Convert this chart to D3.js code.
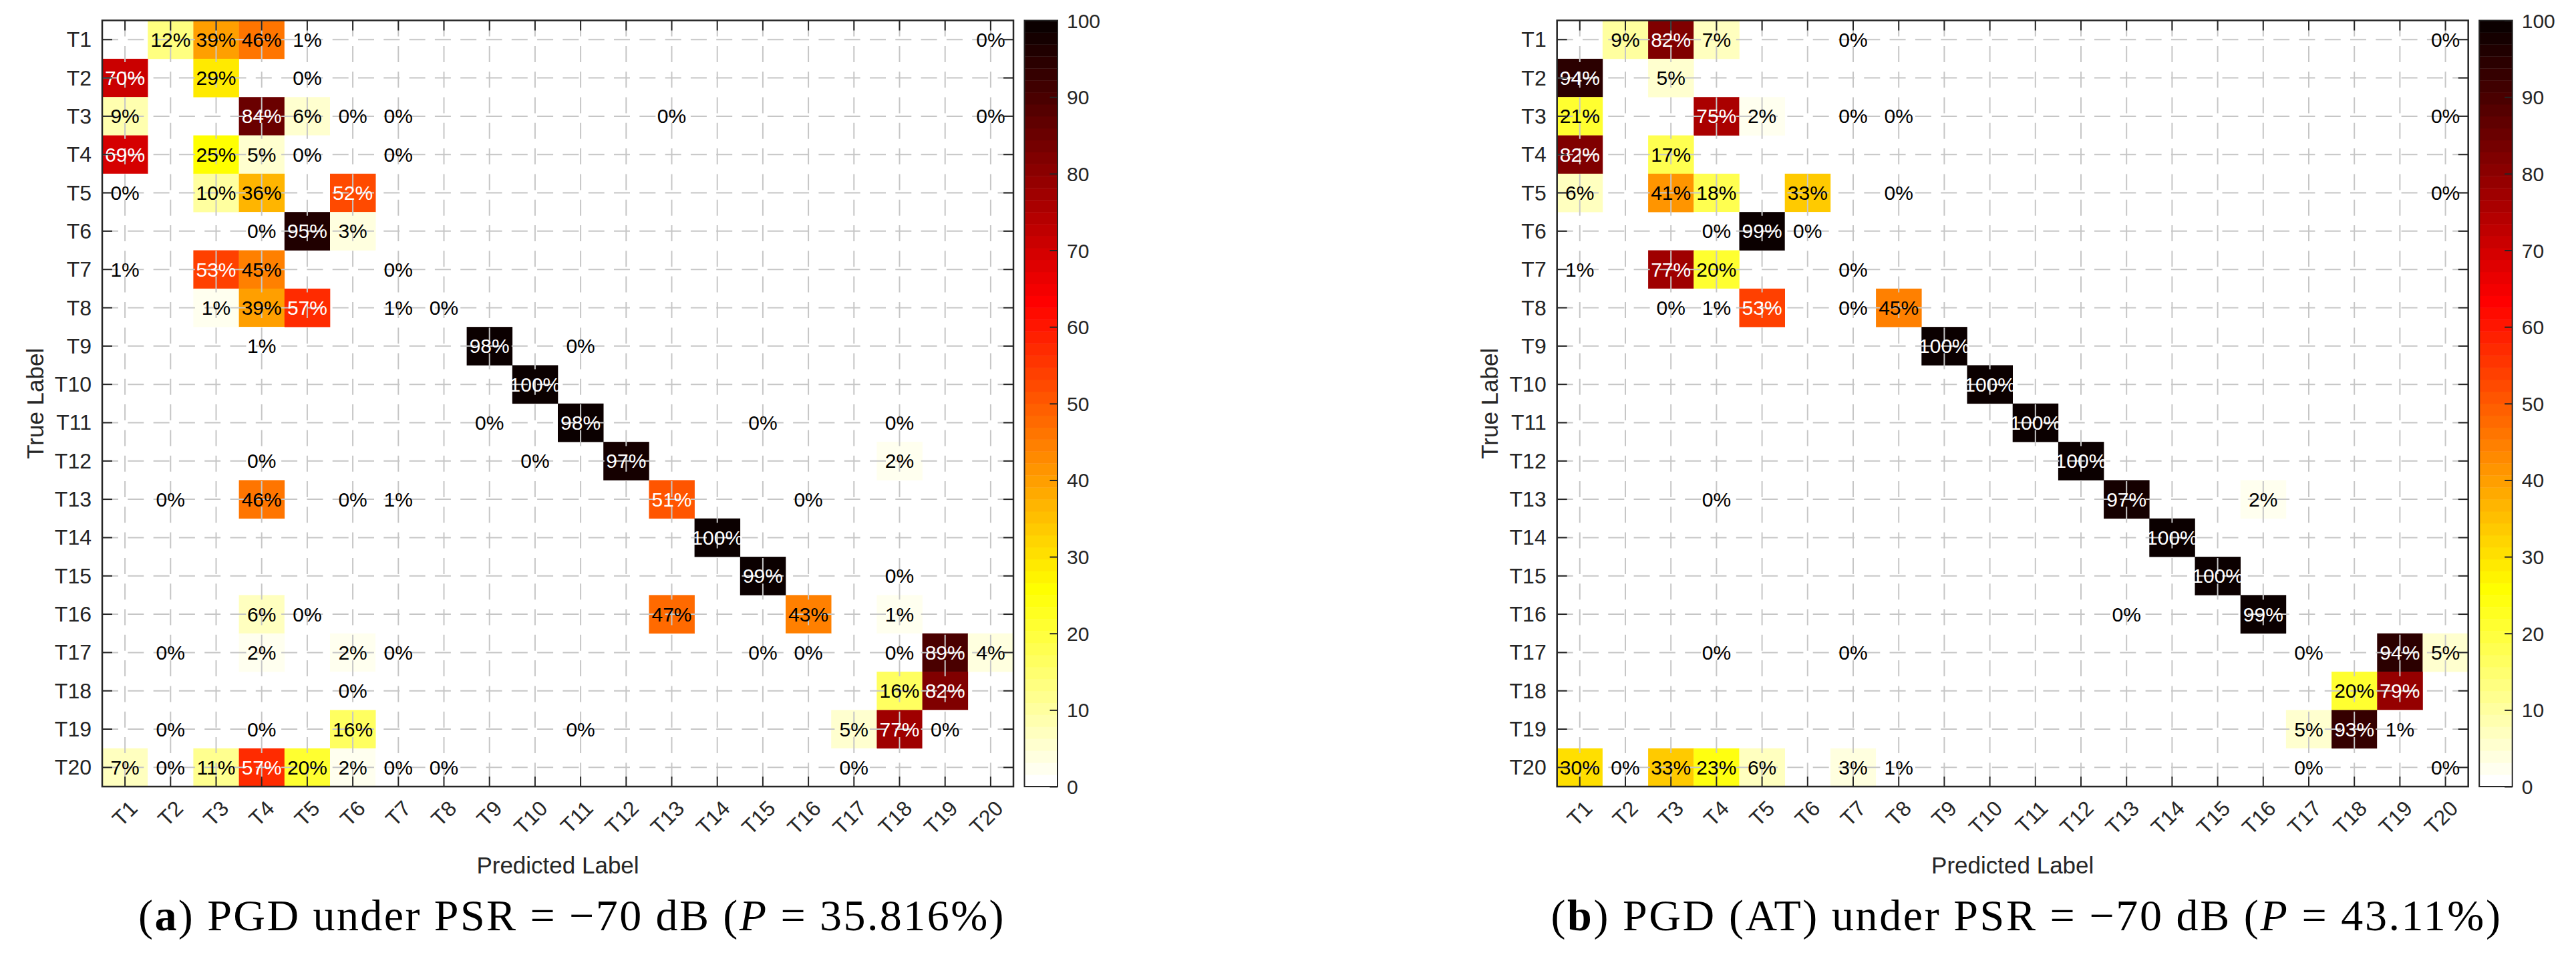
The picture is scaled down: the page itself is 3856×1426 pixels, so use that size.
<!DOCTYPE html>
<html>
<head>
<meta charset="utf-8">
<script src="https://cdn.jsdelivr.net/npm/d3@7/dist/d3.min.js"></script>
<style>
  html, body { margin: 0; padding: 0; background: #ffffff; }
  svg { display: block; }
</style>
</head>
<body>
<svg id="chart" width="3856" height="1426"></svg>
<script>
// ---------------- DATA ----------------
const N = null;
const classLabels = ["T1","T2","T3","T4","T5","T6","T7","T8","T9","T10",
                     "T11","T12","T13","T14","T15","T16","T17","T18","T19","T20"];
const colorbarTicks = [0, 10, 20, 30, 40, 50, 60, 70, 80, 90, 100];
const xAxisTitle = "Predicted Label";
const yAxisTitle = "True Label";

// Panel (a): PGD, rows = true label, columns = predicted label (percent)
const matrixA = [
  [N,12.6,39.4,46.5,1.2,N,N,N,N,N,N,N,N,N,N,N,N,N,N,0.3],
  [70.4,N,29.3,N,0.3,N,N,N,N,N,N,N,N,N,N,N,N,N,N,N],
  [9.3,N,N,84.5,6.1,0.1,0.1,N,N,N,N,N,0.1,N,N,N,N,N,N,0.1],
  [69.5,N,25.3,5.1,0.2,N,0.1,N,N,N,N,N,N,N,N,N,N,N,N,N],
  [0.4,N,10.6,36.5,N,52.5,N,N,N,N,N,N,N,N,N,N,N,N,N,N],
  [N,N,N,0.4,95.8,3.8,N,N,N,N,N,N,N,N,N,N,N,N,N,N],
  [1.2,N,53.4,45.2,N,N,0.2,N,N,N,N,N,N,N,N,N,N,N,N,N],
  [N,N,1.7,39.5,57.6,N,1.1,0.1,N,N,N,N,N,N,N,N,N,N,N,N],
  [N,N,N,1.1,N,N,N,N,98.6,N,0.3,N,N,N,N,N,N,N,N,N],
  [N,N,N,N,N,N,N,N,N,100,N,N,N,N,N,N,N,N,N,N],
  [N,N,N,N,N,N,N,N,0.5,N,98.8,N,N,N,0.4,N,N,0.3,N,N],
  [N,N,N,0.3,N,N,N,N,N,0.2,N,97.4,N,N,N,N,N,2.1,N,N],
  [N,0.4,N,46.6,N,0.3,1.1,N,N,N,N,N,51.3,N,N,0.3,N,N,N,N],
  [N,N,N,N,N,N,N,N,N,N,N,N,N,100,N,N,N,N,N,N],
  [N,N,N,N,N,N,N,N,N,N,N,N,N,N,99.6,N,N,0.4,N,N],
  [N,N,N,6.5,0.4,N,N,N,N,N,N,N,47.6,N,N,43.8,N,1.7,N,N],
  [N,0.4,N,2.5,N,2.4,0.3,N,N,N,N,N,N,N,0.3,0.3,N,0.4,89.1,4.3],
  [N,N,N,N,N,0.6,N,N,N,N,N,N,N,N,N,N,N,16.7,82.7,N],
  [N,0.3,N,0.3,N,16.6,N,N,N,N,0.3,N,N,N,N,N,5.4,77.7,0.4,N],
  [7.5,0.4,11.6,57.2,20.5,2.4,0.3,0.3,N,N,N,N,N,N,N,N,0.3,N,N,N]
];

// Panel (b): PGD (AT)
const matrixB = [
  [N,9.4,82.6,7.6,N,N,0.2,N,N,N,N,N,N,N,N,N,N,N,N,0.2],
  [94.6,N,5.4,N,N,N,N,N,N,N,N,N,N,N,N,N,N,N,N,N],
  [21.6,N,N,75.6,2.4,N,0.2,0.1,N,N,N,N,N,N,N,N,N,N,N,0.1],
  [82.5,N,17.5,N,N,N,N,N,N,N,N,N,N,N,N,N,N,N,N,N],
  [6.5,N,41.4,18.5,N,33.3,N,0.2,N,N,N,N,N,N,N,N,N,N,N,0.1],
  [N,N,N,0.3,99.4,0.3,N,N,N,N,N,N,N,N,N,N,N,N,N,N],
  [1.2,N,77.6,20.8,N,N,0.4,N,N,N,N,N,N,N,N,N,N,N,N,N],
  [N,N,0.3,1.2,53.4,N,0.2,45.1,N,N,N,N,N,N,N,N,N,N,N,N],
  [N,N,N,N,N,N,N,N,100,N,N,N,N,N,N,N,N,N,N,N],
  [N,N,N,N,N,N,N,N,N,100,N,N,N,N,N,N,N,N,N,N],
  [N,N,N,N,N,N,N,N,N,N,100,N,N,N,N,N,N,N,N,N],
  [N,N,N,N,N,N,N,N,N,N,N,100,N,N,N,N,N,N,N,N],
  [N,N,N,0.3,N,N,N,N,N,N,N,N,97.5,N,N,2.2,N,N,N,N],
  [N,N,N,N,N,N,N,N,N,N,N,N,N,100,N,N,N,N,N,N],
  [N,N,N,N,N,N,N,N,N,N,N,N,N,N,100,N,N,N,N,N],
  [N,N,N,N,N,N,N,N,N,N,N,N,0.5,N,N,99.5,N,N,N,N],
  [N,N,N,0.2,N,N,0.2,N,N,N,N,N,N,N,N,N,0.3,N,94.2,5.1],
  [N,N,N,N,N,N,N,N,N,N,N,N,N,N,N,N,N,20.5,79.5,N],
  [N,N,N,N,N,N,N,N,N,N,N,N,N,N,N,N,5.5,93.3,1.2,N],
  [30.6,0.3,33.6,23.8,6.4,N,3.4,1.2,N,N,N,N,N,N,N,N,0.3,N,N,0.4]
];

const captionA = [
  {text: "(", weight: "normal", style: "normal"},
  {text: "a", weight: "bold", style: "normal"},
  {text: ") PGD under PSR = \u221270 dB (", weight: "normal", style: "normal"},
  {text: "P", weight: "normal", style: "italic"},
  {text: " = 35.816%)", weight: "normal", style: "normal"}
];
const captionB = [
  {text: "(", weight: "normal", style: "normal"},
  {text: "b", weight: "bold", style: "normal"},
  {text: ") PGD (AT) under PSR = \u221270 dB (", weight: "normal", style: "normal"},
  {text: "P", weight: "normal", style: "italic"},
  {text: " = 43.11%)", weight: "normal", style: "normal"}
];

// ---------------- LAYOUT ----------------
const axL = 153, axT = 30.6, axW = 1364, axH = 1146.4;
const cbGap = 16.5, cbW = 49.5;
const tickLen = 15;
const SANS = "'Liberation Sans', Arial, Helvetica, sans-serif";
const SERIF = "'Liberation Serif', 'Times New Roman', serif";
const AXCOL = "#262626";

const panels = [
  {values: matrixA, caption: captionA, dx: 0, capCx: 856, capW: 1298},
  {values: matrixB, caption: captionB, dx: 2177.7, capCx: 3033.5, capW: 1424}
];

// flipped MATLAB "hot" colormap, 64 levels
const M = 64;
function hotRGB(i) { // i in 1..M
  const n = Math.floor(3 / 8 * M);
  const r = i <= n ? i / n : 1;
  const g = i <= n ? 0 : (i <= 2 * n ? (i - n) / n : 1);
  const b = i <= 2 * n ? 0 : (i - 2 * n) / (M - 2 * n);
  return d3.rgb(Math.round(r * 255), Math.round(g * 255), Math.round(b * 255)).formatHex();
}
function levelIndex(v) { return Math.min(M, Math.floor(v / 100 * M) + 1); }
function colorOf(v) { return hotRGB(M + 1 - levelIndex(v)); }

const svg = d3.select("#chart");

panels.forEach(p => {
  const g = svg.append("g").attr("transform", `translate(${axL + p.dx},${axT})`);
  const x = d3.scaleBand().domain(classLabels).range([0, axW]).paddingInner(0).paddingOuter(0);
  const y = d3.scaleBand().domain(classLabels).range([0, axH]).paddingInner(0).paddingOuter(0);
  const bw = x.bandwidth(), bh = y.bandwidth();

  const cells = [];
  p.values.forEach((row, ri) => row.forEach((v, ci) => {
    if (v !== null) cells.push({r: classLabels[ri], c: classLabels[ci], v: v});
  }));

  // cell fills
  g.append("g").selectAll("rect").data(cells).join("rect")
    .attr("x", d => x(d.c)).attr("y", d => y(d.r))
    .attr("width", bw + 0.3).attr("height", bh + 0.3)
    .attr("fill", d => colorOf(d.v));

  // dashed grid at tick positions
  const grid = g.append("g").attr("stroke", "#c6c6c6").attr("stroke-width", 2)
    .attr("stroke-dasharray", "24,14.3").attr("fill", "none");
  grid.selectAll("line.v").data(classLabels).join("line").attr("class", "v")
    .attr("x1", d => x(d) + bw / 2).attr("x2", d => x(d) + bw / 2)
    .attr("y1", 0).attr("y2", axH);
  grid.selectAll("line.h").data(classLabels).join("line").attr("class", "h")
    .attr("y1", d => y(d) + bh / 2).attr("y2", d => y(d) + bh / 2)
    .attr("x1", 0).attr("x2", axW);

  // cell text
  g.append("g").selectAll("text").data(cells).join("text")
    .attr("x", d => x(d.c) + bw / 2).attr("y", d => y(d.r) + bh / 2)
    .attr("text-anchor", "middle").attr("dominant-baseline", "central")
    .attr("font-family", SANS).attr("font-size", 30)
    .attr("fill", d => d.v >= 50 ? "#ffffff" : "#000000")
    .text(d => Math.floor(d.v) + "%");

  // axes
  const styleAxis = sel => {
    sel.select(".domain").remove();
    sel.selectAll(".tick line").attr("stroke", AXCOL).attr("stroke-width", 2);
    sel.selectAll(".tick text").attr("fill", AXCOL).attr("font-family", SANS).attr("font-size", 32);
  };
  const gl = g.append("g").call(d3.axisLeft(y).tickSize(-tickLen).tickSizeOuter(0).tickPadding(16));
  styleAxis(gl);
  gl.selectAll(".tick text").attr("dy", null).attr("dominant-baseline", "central");

  const gb = g.append("g").attr("transform", `translate(0,${axH})`)
    .call(d3.axisBottom(x).tickSize(-tickLen).tickSizeOuter(0));
  styleAxis(gb);
  gb.selectAll(".tick text")
    .attr("x", 0).attr("y", 0).attr("dy", null)
    .attr("text-anchor", "end").attr("dominant-baseline", "central")
    .attr("transform", "translate(13,27) rotate(-45)");

  const gt = g.append("g").call(d3.axisTop(x).tickSize(-tickLen).tickSizeOuter(0).tickFormat(""));
  styleAxis(gt);
  const gr = g.append("g").attr("transform", `translate(${axW},0)`)
    .call(d3.axisRight(y).tickSize(-tickLen).tickSizeOuter(0).tickFormat(""));
  styleAxis(gr);

  // box
  g.append("rect").attr("x", 0).attr("y", 0).attr("width", axW).attr("height", axH)
    .attr("fill", "none").attr("stroke", AXCOL).attr("stroke-width", 2.5);

  // axis titles
  g.append("text").attr("x", axW / 2).attr("y", 1295 - axT)
    .attr("text-anchor", "middle").attr("dominant-baseline", "central")
    .attr("font-family", SANS).attr("font-size", 35).attr("fill", AXCOL)
    .text(xAxisTitle);
  g.append("text").attr("transform", `translate(${52 - axL},${axH / 2}) rotate(-90)`)
    .attr("text-anchor", "middle").attr("dominant-baseline", "central")
    .attr("font-family", SANS).attr("font-size", 35).attr("fill", AXCOL)
    .text(yAxisTitle);

  // colorbar
  const cb = g.append("g").attr("transform", `translate(${axW + cbGap},0)`);
  const cScale = d3.scaleLinear().domain([0, 100]).range([axH, 0]);
  const levels = d3.range(1, M + 1);
  cb.selectAll("rect.band").data(levels).join("rect").attr("class", "band")
    .attr("x", 0).attr("width", cbW)
    .attr("y", k => cScale(k / M * 100))
    .attr("height", k => cScale((k - 1) / M * 100) - cScale(k / M * 100) + 0.4)
    .attr("fill", k => hotRGB(M + 1 - k));
  const ca = cb.append("g").attr("transform", `translate(${cbW},0)`)
    .call(d3.axisRight(cScale).tickValues(colorbarTicks).tickSize(-11.5).tickSizeOuter(0).tickPadding(14));
  ca.select(".domain").remove();
  ca.selectAll(".tick line").attr("stroke", AXCOL).attr("stroke-width", 2);
  ca.selectAll(".tick text").attr("fill", AXCOL).attr("font-family", SANS).attr("font-size", 30)
    .attr("dy", null).attr("dominant-baseline", "central");
  cb.append("rect").attr("x", 0).attr("y", 0).attr("width", cbW).attr("height", axH)
    .attr("fill", "none").attr("stroke", AXCOL).attr("stroke-width", 2);

  // caption
  const cap = svg.append("text").attr("x", p.capCx).attr("y", 1392)
    .attr("text-anchor", "middle").attr("font-family", SERIF).attr("font-size", 66).attr("fill", "#000");
  cap.selectAll("tspan").data(p.caption).join("tspan")
    .attr("font-weight", d => d.weight).attr("font-style", d => d.style)
    .attr("xml:space", "preserve")
    .text(d => d.text);
  const natural = cap.node().getComputedTextLength();
  const nChars = p.caption.reduce((s, d) => s + d.text.length, 0);
  const ls = (p.capW - natural) / nChars;
  cap.attr("letter-spacing", ls);
});
</script>
</body>
</html>
